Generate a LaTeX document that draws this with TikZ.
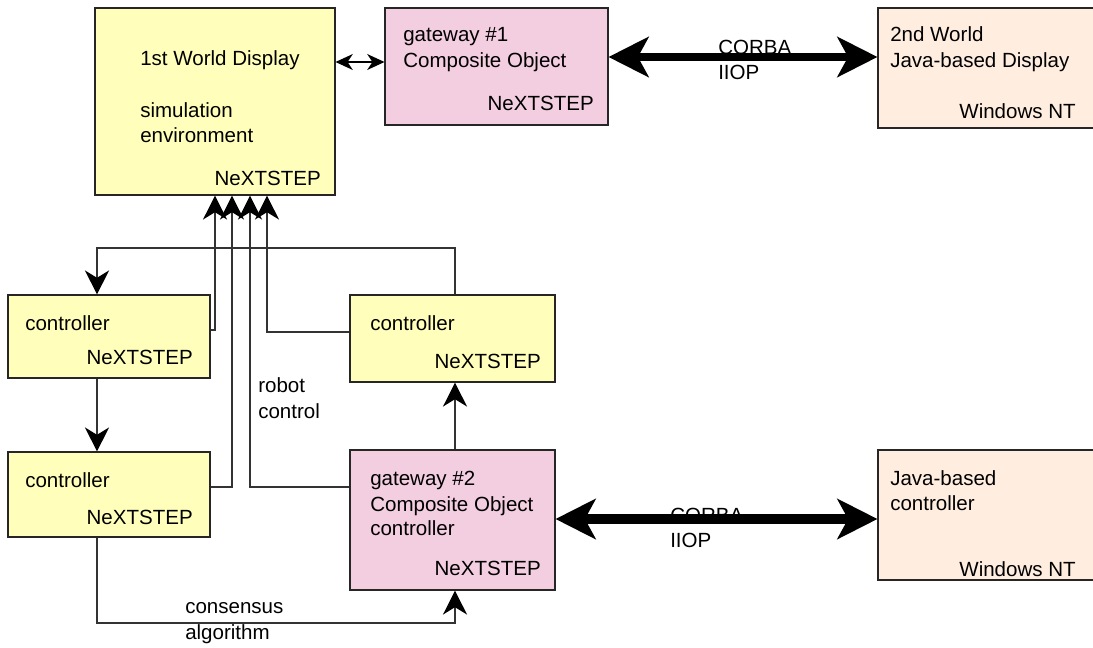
\documentclass[tikz,border=0pt]{standalone}
\usepackage{fontspec}
\setmainfont{Liberation Sans}
\usetikzlibrary{arrows.meta,fit,calc}
\definecolor{wyellow}{RGB}{255,255,187}
\definecolor{wpink}{RGB}{243,205,224}
\definecolor{wpeach}{RGB}{255,238,224}
\begin{document}
\begin{tikzpicture}[x=0.75pt,y=-0.75pt,
  box/.style={draw=black!85, line width=0.8pt, inner sep=0pt},
  txt/.style={inner sep=0pt, anchor=base west, font=\fontsize{15.4}{18}\selectfont},
  txtr/.style={txt, anchor=base east},
  conn/.style={draw=black!80, line width=0.9pt},
  arr/.style={conn, -{Stealth[length=18pt,width=18pt,inset=5.5pt,color=black]}},
  dblarr/.style={draw=black, line width=0.9pt, {Stealth[length=13pt,width=12pt,inset=4pt]}-{Stealth[length=13pt,width=12pt,inset=4pt]}},
  bigarr/.style={draw=black, line width=6pt, {Stealth[length=30pt,width=30pt,inset=8pt]}-{Stealth[length=30pt,width=30pt,inset=8pt]}},
  bigarrb/.style={bigarr, line width=8pt}
]
\useasboundingbox (0,0) rectangle (1093,647);

% boxes
\node[box, fill=wyellow, fit={(95,8)(335,195)}] (w1) {};
\node[box, fill=wpink, fit={(385,8)(608,125)}] (g1) {};
\node[box, fill=wpeach, fit={(878,8)(1100,128)}] (w2) {};
\node[box, fill=wyellow, fit={(8,295)(210,378)}] (c1) {};
\node[box, fill=wyellow, fit={(350,295)(555,382)}] (c2) {};
\node[box, fill=wyellow, fit={(8,452)(210,537)}] (c3) {};
\node[box, fill=wpink, fit={(350,450)(555,590)}] (g2) {};
\node[box, fill=wpeach, fit={(878,450)(1100,580)}] (j2) {};

% texts
\node[txt] (t1) at (140,65) {1st World Display};
\node[txt] (t2) at (140,117) {simulation};
\node[txt] (t3) at (140,142) {environment};
\node[txtr] (t4) at (321,185) {NeXTSTEP};

\node[txt] (t5) at (403,41) {gateway \#1};
\node[txt] (t6) at (403,67) {Composite Object};
\node[txtr] (t7) at (594,110) {NeXTSTEP};

\node[txt] (t8) at (890,41) {2nd World};
\node[txt] (t9) at (890,67) {Java-based Display};
\node[txtr] (t10) at (1076,118) {Windows NT};

\node[txt] (t11) at (25,330) {controller};
\node[txtr] (t12) at (193,364) {NeXTSTEP};

\node[txt] (t13) at (370,330) {controller};
\node[txtr] (t14) at (541,368) {NeXTSTEP};

\node[txt] (t15) at (25,487) {controller};
\node[txtr] (t16) at (193,524) {NeXTSTEP};

\node[txt] (t17) at (370,485) {gateway \#2};
\node[txt] (t18) at (370,511) {Composite Object};
\node[txt] (t19) at (370,535) {controller};
\node[txtr] (t20) at (541,575) {NeXTSTEP};

\node[txt] (t21) at (890,485) {Java-based};
\node[txt] (t22) at (890,510) {controller};
\node[txtr] (t23) at (1076,576) {Windows NT};

\node[txt] (t24) at (718,54) {CORBA};
\node[txt] (t25) at (718,79) {IIOP};
\node[txt] (t26) at (670,522) {CORBA};
\node[txt] (t27) at (670,547) {IIOP};

\node[txt] (t28) at (258,392) {robot};
\node[txt] (t29) at (258,418) {control};
\node[txt] (t30) at (185,613) {consensus};
\node[txt] (t31) at (185,639) {algorithm};

% helper coordinates
\coordinate (xa) at (215,0);
\coordinate (xb) at (232,0);
\coordinate (xc) at (250,0);
\coordinate (xd) at (267,0);
\coordinate (colL) at (97,0);
\coordinate (colR) at (455,0);
\coordinate (yA) at (0,330);
\coordinate (yB) at (0,487);
\coordinate (yD) at (0,332);
\coordinate (busTop) at (0,248);
\coordinate (busBot) at (0,623);
\coordinate (yI) at (0,62);
\coordinate (yJ) at (0,57);
\coordinate (yK) at (0,519);

% connectors into 1st World Display
\draw[arr] (c1.east |- yA) -| (w1.south -| xa);
\draw[arr] (c3.east |- yB) -| (w1.south -| xb);
\draw[arr] (g2.west |- yB) -| (w1.south -| xc);
\draw[arr] (c2.west |- yD) -| (w1.south -| xd);

% loop between controllers
\draw[arr] (c2.north -| colR) -- (colR |- busTop) -- (colL |- busTop) -- (c1.north -| colL);
\draw[arr] (c1.south -| colL) -- (c3.north -| colL);
\draw[arr] (g2.north -| colR) -- (c2.south -| colR);
\draw[arr] (c3.south -| colL) -- (colL |- busBot) -- (colR |- busBot) -- (g2.south -| colR);

% double arrows
\draw[dblarr] (w1.east |- yI) -- (g1.west |- yI);
\draw[bigarr] (g1.east |- yJ) -- (w2.west |- yJ);
\draw[bigarrb] (g2.east |- yK) -- (j2.west |- yK);
\end{tikzpicture}
\end{document}
